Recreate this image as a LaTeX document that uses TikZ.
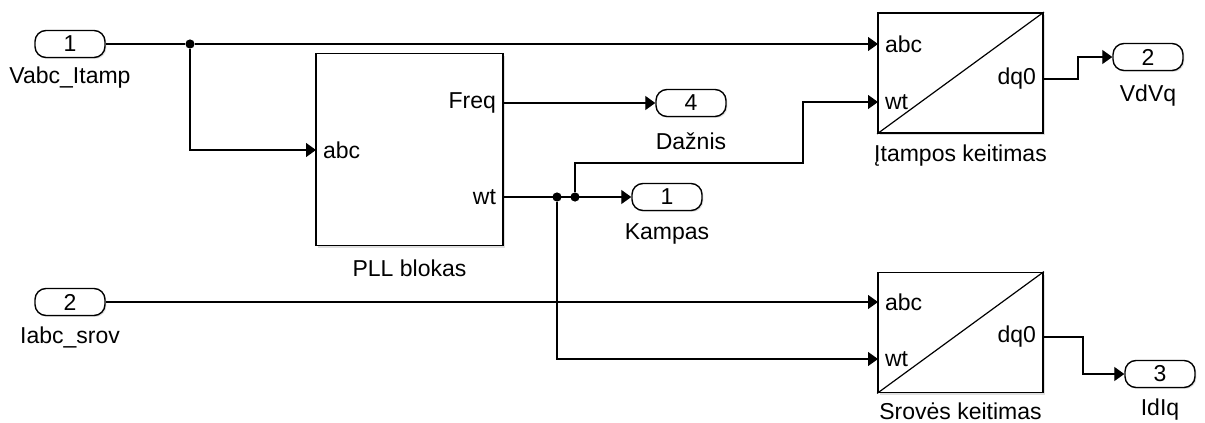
\documentclass[tikz,border=0pt]{standalone}
\usepackage{fontspec}
\setmainfont{Liberation Sans}
\usepackage{tikz}
\usetikzlibrary{arrows.meta, positioning, shadows}

\begin{document}
\begin{tikzpicture}[
    x=0.5pt, y=-0.5pt,
    font=\fontsize{11.5}{13}\selectfont,
    port/.style={draw,line width=0.7pt,rounded corners=5.5pt,fill=white,
                 minimum width=35pt,minimum height=13.5pt,inner sep=0pt,
                 drop shadow={shadow xshift=0.7pt,shadow yshift=-0.7pt,opacity=0.25}},
    blk/.style={draw,line width=0.9pt,fill=white,inner sep=0pt,
                drop shadow={shadow xshift=1pt,shadow yshift=-1pt,opacity=0.25}},
    dot/.style={circle,fill,inner sep=0pt,minimum size=4.6pt},
    arr/.style={-{Triangle[length=5pt,width=7pt]},line width=0.6pt},
    wire/.style={line width=0.6pt},
    lbl/.style={inner sep=0pt}
  ]
    \useasboundingbox (0,0) rectangle (1205,423);

    % inports
    \node[port] (in1) at (70,44) {1};
    \node[lbl] at (70,78) {Vabc\_Itamp};
    \node[port] (in2) at (70,302) {2};
    \node[lbl] at (70,337) {Iabc\_srov};

    % blocks
    \node[blk,minimum width=93.5pt,minimum height=96pt] (pll) at (409.5,149.5) {};
    \node[lbl] at (409.5,268) {PLL blokas};
    \node[blk,minimum width=82.5pt,minimum height=60pt] (vt) at (960.5,73) {};
    \node[lbl] at (960.5,156) {Įtampos keitimas};
    \node[blk,minimum width=82.5pt,minimum height=60pt] (st) at (960.5,332.5) {};
    \node[lbl] at (960.5,411) {Srovės keitimas};
    \draw[line width=0.6pt] (vt.south west) -- (vt.north east);
    \draw[line width=0.6pt] (st.south west) -- (st.north east);

    % block ports
    \coordinate (pll-abc)  at (316,150);
    \coordinate (pll-freq) at (503,103);
    \coordinate (pll-wt)   at (503,197);
    \coordinate (vt-abc)   at (878,44);
    \coordinate (vt-wt)    at (878,102);
    \coordinate (vt-dq0)   at (1043,79);
    \coordinate (st-abc)   at (878,302);
    \coordinate (st-wt)    at (878,359);
    \coordinate (st-dq0)   at (1043,337);
    \node[anchor=west] at (pll-abc) {abc};
    \node[anchor=east] at (pll-freq) {Freq};
    \node[anchor=east] at (pll-wt) {wt};
    \node[anchor=west] at (vt-abc) {abc};
    \node[anchor=west] at (vt-wt) {wt};
    \node[anchor=east] at (vt-dq0) {dq0};
    \node[anchor=west] at (st-abc) {abc};
    \node[anchor=west] at (st-wt) {wt};
    \node[anchor=east] at (st-dq0) {dq0};

    % outports
    \node[port] (out4) at (691,103) {4};
    \node[lbl] at (691,141) {Dažnis};
    \node[port] (out1) at (667,197) {1};
    \node[lbl] at (667,234) {Kampas};
    \node[port] (out2) at (1148,57) {2};
    \node[lbl] at (1148,96) {VdVq};
    \node[port] (out3) at (1160,374) {3};
    \node[lbl] at (1160,410) {IdIq};

    % junctions and bends
    \node[dot] (j1) at (190,44) {};
    \node[dot] (j2) at (557,197) {};
    \node[dot] (j3) at (575,197) {};
    \coordinate (b1) at (803,163);
    \coordinate (b2) at (1078,57);
    \coordinate (b3) at (1083,374);

    % wires
    \draw[wire] (in1) -- (j1);
    \draw[arr] (j1) -- (vt-abc);
    \draw[arr] (j1) |- (pll-abc);
    \draw[arr] (pll-freq) -- (out4);
    \draw[arr] (pll-wt) -- (out1);
    \draw[arr] (j3) |- (b1) |- (vt-wt);
    \draw[arr] (j2) |- (st-wt);
    \draw[arr] (in2) -- (st-abc);
    \draw[arr] (vt-dq0) -| (b2) -- (out2);
    \draw[arr] (st-dq0) -| (b3) -- (out3);
  \end{tikzpicture}
\end{document}
